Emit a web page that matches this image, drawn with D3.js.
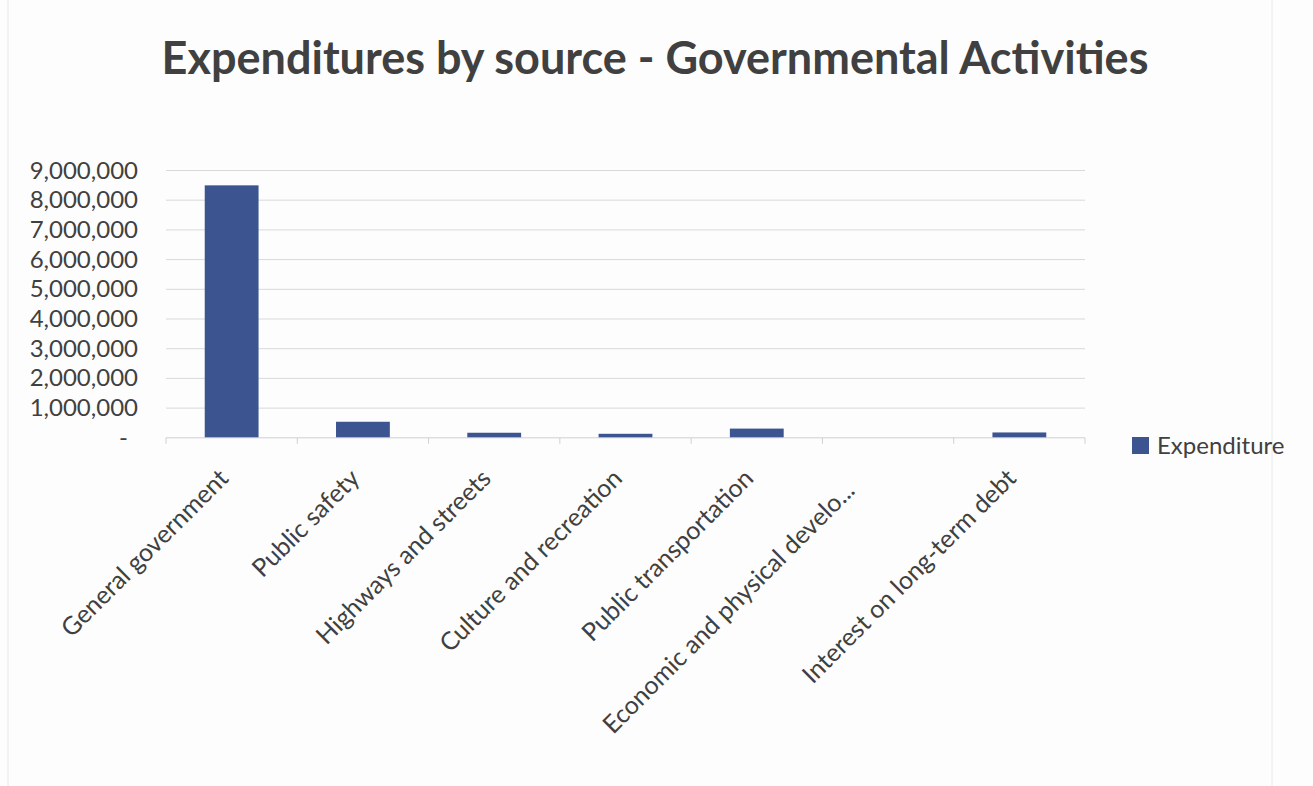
<!DOCTYPE html>
<html><head><meta charset="utf-8">
<script src="https://cdn.jsdelivr.net/npm/d3@7"></script>
<style>body{margin:0;background:#fdfdfd;}svg{display:block;}</style>
</head><body>
<svg id="c" width="1313" height="786"></svg>
<script>
const categories = ["General government","Public safety","Highways and streets","Culture and recreation","Public transportation","Economic and physical develo...","Interest on long-term debt"];
const values = [8500000, 540000, 170000, 135000, 310000, 0, 180000];
const yTicks = [0,1000000,2000000,3000000,4000000,5000000,6000000,7000000,8000000,9000000];
const seriesName = "Expenditure";
const title = "Expenditures by source - Governmental Activities";

const svg = d3.select("#c");
const font = "Lato, 'Open Sans', sans-serif";
const m = {left:166, right:1085, top:170.5, bottom:437.8};
const x = d3.scaleBand().domain(categories).range([m.left, m.right]).paddingInner(0.59).paddingOuter(0.295);
const xb = d3.scaleBand().domain(categories).range([m.left, m.right]);
const y = d3.scaleLinear().domain([0,9000000]).range([m.bottom, m.top]);

svg.append("rect").attr("width",1313).attr("height",786).attr("fill","#fdfdfd");
svg.append("line").attr("x1",8).attr("x2",8).attr("y1",0).attr("y2",786).attr("stroke","#e4e8ea");
svg.append("line").attr("x1",1272).attr("x2",1272).attr("y1",0).attr("y2",786).attr("stroke","#e6ecee");

svg.append("text").attr("x",655).attr("y",74).attr("text-anchor","middle")
  .attr("font-family",font).attr("font-weight","bold").attr("font-size",45).attr("fill","#404040").text(title);

// gridlines
svg.append("g").selectAll("line").data(yTicks.filter(d=>d>0)).join("line")
  .attr("x1",m.left).attr("x2",m.right).attr("y1",d=>y(d)).attr("y2",d=>y(d))
  .attr("stroke","#d9d9d9").attr("stroke-width",1);

// y axis labels
const fmt = d => d===0 ? "-" : d3.format(",")(d);
svg.append("g").selectAll("text").data(yTicks).join("text")
  .attr("x", d=> d===0 ? 128 : 138).attr("y",d=>y(d)+8).attr("text-anchor","end")
  .attr("font-family",font).attr("font-size",24).attr("fill","#404040").text(fmt);

// bars
svg.append("g").selectAll("rect").data(values).join("rect")
  .attr("x",(d,i)=>x(categories[i])).attr("width",x.bandwidth())
  .attr("y",d=>y(d)).attr("height",d=>y(0)-y(d)).attr("fill","#3c5591");

// x axis
svg.append("line").attr("x1",m.left).attr("x2",m.right).attr("y1",y(0)).attr("y2",y(0)).attr("stroke","#d0d0d0");
svg.append("g").selectAll("line").data(categories.concat(["__end"])).join("line")
  .attr("x1",(d,i)=>m.left+i*xb.bandwidth()).attr("x2",(d,i)=>m.left+i*xb.bandwidth())
  .attr("y1",y(0)).attr("y2",y(0)+6).attr("stroke","#d0d0d0");

svg.append("g").selectAll("text").data(categories).join("text")
  .attr("transform",(d,i)=>{
    const trunc = d.endsWith("...");
    const ax = xb(d)+xb.bandwidth()/2-8 - (trunc?30:0);
    const ay = y(0)+36 + (trunc?12:0);
    return `translate(${ax},${ay}) rotate(-45)`;
  })
  .attr("text-anchor","end").attr("dy","0.35em").attr("font-family",font).attr("font-size",25).attr("fill","#404040").text(d=>d);

// legend
svg.append("rect").attr("x",1132).attr("y",437).attr("width",17).attr("height",17).attr("fill","#3c5591");
svg.append("text").attr("x",1157).attr("y",454).attr("font-family",font).attr("font-size",24).attr("fill","#404040").text(seriesName);
</script>
</body></html>
